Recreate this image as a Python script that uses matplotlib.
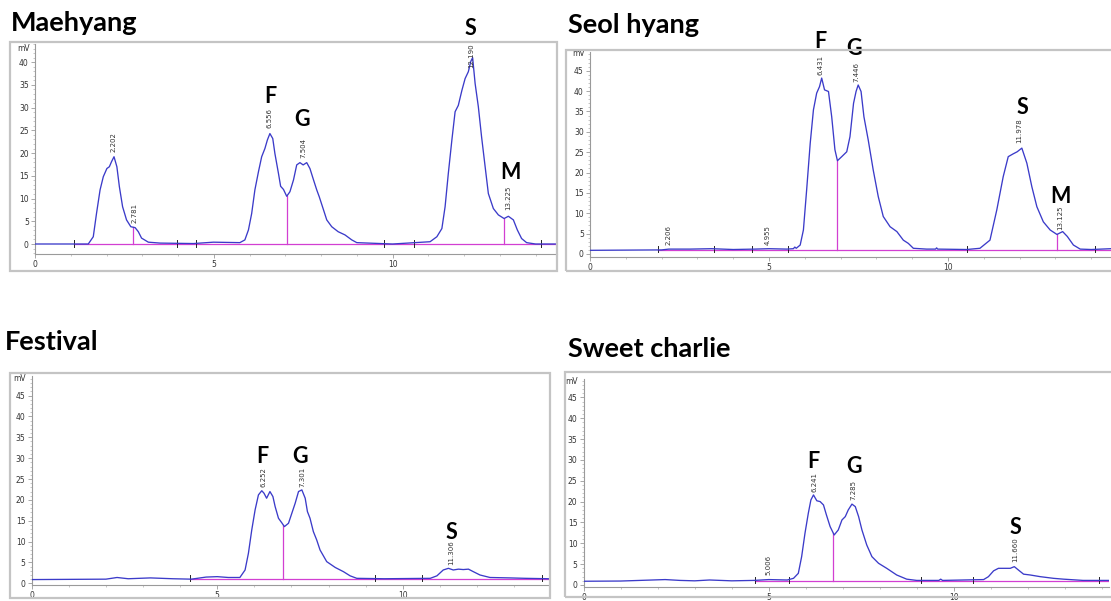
import matplotlib
matplotlib.use("Agg")
import matplotlib.pyplot as plt
from matplotlib.patches import Rectangle
from matplotlib.ticker import MultipleLocator
import numpy as np

W, H = 1111, 601

# ---- data (time in min, signal in mV) ----
mae_t = [0, 1.0, 1.49, 1.63, 1.72, 1.82, 1.91, 2.01, 2.08, 2.14, 2.21, 2.29, 2.36, 2.45, 2.56,
         2.68, 2.80, 2.89, 2.98, 3.17, 3.50, 4.43, 4.99, 5.73, 5.87, 5.97, 6.06, 6.15, 6.25,
         6.34, 6.43, 6.50, 6.57, 6.65, 6.71, 6.81, 6.87, 6.95, 7.04, 7.13, 7.23, 7.32, 7.41,
         7.50, 7.60, 7.69, 7.79, 7.88, 7.95, 8.07, 8.16, 8.30, 8.48, 8.67, 8.86, 9.0, 10.0,
         11.05, 11.24, 11.38, 11.47, 11.56, 11.66, 11.75, 11.84, 11.94, 12.03, 12.12, 12.19,
         12.24, 12.31, 12.40, 12.49, 12.59, 12.68, 12.82, 12.96, 13.12, 13.24, 13.38, 13.49,
         13.61, 13.75, 14.0, 14.6]
mae_mv = [0, 0, 0, 1.6, 6.7, 11.9, 14.8, 16.6, 17.0, 18.1, 19.2, 17.0, 12.6, 8.2, 5.3,
          3.8, 3.6, 2.7, 1.3, 0.4, 0.2, 0.1, 0.4, 0.3, 0.9, 3.1, 6.7, 11.9, 15.9,
          19.2, 21.0, 22.9, 24.3, 23.2, 19.9, 15.5, 12.7, 12.0, 10.5, 11.5, 14.1, 17.4, 17.9,
          17.4, 17.9, 16.6, 14.1, 11.9, 10.4, 7.5, 5.3, 3.8, 2.7, 2.0, 0.9, 0.3, 0,
          0.5, 1.6, 3.4, 8.2, 15.5, 22.9, 29.1, 30.5, 33.8, 36.4, 37.9, 40.2,
          41.0, 35.3, 30.2, 23.6, 17.0, 11.1, 7.8, 6.4, 5.6, 6.1, 5.3, 3.1,
          1.2, 0.3, 0, 0]

seol_t = [0, 1.0, 2.0, 2.2, 2.8, 3.4, 4.0, 4.6, 5.0, 5.5, 5.68, 5.72, 5.76, 5.87, 5.96, 6.05,
          6.15, 6.24, 6.33, 6.41, 6.47, 6.55, 6.66, 6.75, 6.84, 6.91, 7.03, 7.17, 7.26, 7.36,
          7.43, 7.49, 7.57, 7.65, 7.77, 7.91, 8.05, 8.19, 8.38, 8.57, 8.75, 8.89, 9.03, 9.40,
          9.65, 9.68, 9.71, 10.52, 10.89, 11.17, 11.36, 11.54, 11.68, 11.82, 11.93, 12.06,
          12.20, 12.34, 12.48, 12.66, 12.85, 13.04, 13.20, 13.33, 13.50, 13.69, 14.0, 14.55]
seol_mv = [0.9, 0.95, 1.0, 1.2, 1.2, 1.3, 1.1, 1.2, 1.3, 1.2, 1.3, 1.7, 1.4, 2.2, 5.9, 15.7,
           27.2, 35.4, 39.5, 41.1, 43.2, 40.3, 39.9, 33.7, 25.6, 22.9, 23.9, 25.1, 28.8, 37.0,
           39.9, 41.5, 39.9, 33.7, 28.0, 20.6, 14.1, 9.2, 6.7, 5.5, 3.4, 2.6, 1.4, 1.2,
           1.2, 1.5, 1.2, 1.1, 1.4, 3.4, 10.8, 19.0, 23.9, 24.6, 25.1, 26.0,
           22.3, 16.5, 11.6, 7.9, 5.9, 4.8, 5.5, 4.3, 2.2, 1.2, 1.1, 1.3]

fest_t = [0, 1.0, 2.0, 2.3, 2.6, 3.2, 3.8, 4.3, 4.7, 5.0, 5.3, 5.61, 5.75, 5.84, 5.93, 6.02,
          6.11, 6.20, 6.26, 6.33, 6.42, 6.50, 6.56, 6.65, 6.74, 6.81, 6.92, 7.01, 7.10, 7.19,
          7.28, 7.37, 7.43, 7.50, 7.59, 7.68, 7.77, 7.95, 8.18, 8.40, 8.58, 8.76, 9.5, 10.74,
          10.92, 11.09, 11.23, 11.36, 11.50, 11.63, 11.77, 11.90, 12.08, 12.35, 12.89, 13.3,
          13.95]
fest_mv = [0.9, 0.95, 1.0, 1.4, 1.1, 1.3, 1.1, 1.0, 1.5, 1.6, 1.4, 1.4, 3.2, 7.2, 12.8, 17.6,
           21.2, 22.2, 21.6, 20.4, 22.0, 20.8, 18.4, 15.6, 14.5, 13.6, 14.4, 16.8, 19.2, 22.0,
           22.4, 20.4, 17.2, 15.6, 12.4, 10.4, 8.0, 5.2, 3.8, 2.8, 1.8, 1.2, 1.1, 1.2,
           1.8, 3.2, 3.6, 3.2, 3.4, 3.3, 3.4, 2.8, 2.0, 1.4, 1.3, 1.2,
           1.1]

sweet_t = [0, 1.0, 2.2, 2.6, 3.0, 3.4, 4.0, 4.6, 5.0, 5.5, 5.67, 5.80, 5.89, 5.98, 6.07, 6.14,
           6.21, 6.30, 6.39, 6.48, 6.56, 6.66, 6.77, 6.88, 6.98, 7.07, 7.15, 7.25, 7.34, 7.43,
           7.52, 7.65, 7.79, 7.97, 8.19, 8.46, 8.73, 9.0, 9.6, 9.65, 9.7, 10.81, 10.94, 11.08,
           11.21, 11.35, 11.53, 11.64, 11.75, 11.89, 12.07, 12.34, 12.70, 12.97, 13.5, 14.2]
sweet_mv = [0.9, 0.95, 1.3, 1.1, 1.0, 1.2, 1.0, 1.1, 1.3, 1.2, 1.6, 2.8, 6.8, 12.4, 17.2, 20.4,
            21.6, 20.2, 20.0, 19.2, 16.8, 14.0, 12.0, 13.2, 15.6, 16.4, 18.0, 19.4, 18.8, 16.4,
            13.2, 9.6, 6.8, 5.2, 4.0, 2.4, 1.4, 1.1, 1.1, 1.4, 1.1, 1.3, 2.0, 3.4,
            4.0, 4.0, 4.0, 4.4, 3.6, 2.6, 2.4, 2.0, 1.6, 1.4, 1.1, 1.1]

# retention-time labels: (time, label, height of label foot)
mae_rt = [(2.202, "2.202", 20.2), (2.781, "2.781", 4.6), (6.556, "6.556", 25.5),
          (7.504, "7.504", 18.9), (12.190, "12.190", 38.7), (13.225, "13.225", 7.5)]
seol_rt = [(2.206, "2.206", 2.2), (4.955, "4.955", 2.2), (6.431, "6.431", 44.0),
           (7.446, "7.446", 42.3), (11.978, "11.978", 27.2), (13.125, "13.125", 5.9)]
fest_rt = [(6.252, "6.252", 23.2), (7.301, "7.301", 23.2), (11.306, "11.306", 4.4)]
sweet_rt = [(5.006, "5.006", 2.4), (6.241, "6.241", 22.4), (7.285, "7.285", 20.4),
            (11.660, "11.660", 5.6)]

# sugar letters: (letter, time, mV)
mae_sugar = [("F", 6.57, 32.5), ("G", 7.47, 27.3), ("S", 12.17, 47.5), ("M", 13.29, 15.8)]
seol_sugar = [("F", 6.42, 52.1), ("G", 7.37, 50.4), ("S", 12.07, 35.9), ("M", 13.15, 14.0)]
fest_sugar = [("F", 6.21, 30.3), ("G", 7.23, 30.3), ("S", 11.3, 12.3)]
sweet_sugar = [("F", 6.2, 29.5), ("G", 7.31, 28.3), ("S", 11.66, 13.7)]

# integration: drop lines, event marks, baseline start / level
mae_drop = [2.73, 7.04, 13.12]
seol_drop = [6.91, 13.04]
fest_drop = [6.78]
sweet_drop = [6.75]
mae_events = [1.10, 3.98, 4.50, 9.77, 10.60, 14.14]
seol_events = [1.91, 3.46, 4.52, 5.53, 10.54, 14.10]
fest_events = [4.27, 9.26, 10.52, 13.76]
sweet_events = [4.62, 5.55, 9.11, 10.51, 13.93]
mae_base = (1.10, 0.0)
seol_base = (1.91, 1.1)
fest_base = (4.27, 1.05)
sweet_base = (4.62, 1.05)

names = ["Maehyang", "Seol hyang", "Festival", "Sweet charlie"]

BLUE = "#3b3bc9"
MAGENTA = "#d23fd2"
GRAY = "#9a9a9a"


def fbox(l, t, r, b):
    return [l / W, 1 - b / H, (r - l) / W, (b - t) / H]


fig = plt.figure(figsize=(W / 100, H / 100), dpi=100)

panels = [
    dict(t=mae_t, mv=mae_mv, rt=mae_rt, sugar=mae_sugar, drop=mae_drop, ev=mae_events,
         base=mae_base, ax=(35, 44, 557, 254), xmax=14.6, ylim=(-2.2, 44.0), frame=(10, 42, 557, 271),
         mv_y=43.0, ymajor=list(range(0, 45, 5)), title=(11, 31)),
    dict(t=seol_t, mv=seol_mv, rt=seol_rt, sugar=seol_sugar, drop=seol_drop, ev=seol_events,
         base=seol_base, ax=(590, 52, 1111, 257), xmax=14.55, ylim=(-0.74, 49.6), frame=(566, 50, 1113, 271),
         mv_y=49.3, ymajor=list(range(0, 50, 5)), title=(568, 33)),
    dict(t=fest_t, mv=fest_mv, rt=fest_rt, sugar=fest_sugar, drop=fest_drop, ev=fest_events,
         base=fest_base, ax=(31.7, 376, 549, 585), xmax=13.94, ylim=(-0.4, 49.7), frame=(10, 373, 550, 598),
         mv_y=49.2, ymajor=list(range(0, 50, 5)), title=(5, 350)),
    dict(t=sweet_t, mv=sweet_mv, rt=sweet_rt, sugar=sweet_sugar, drop=sweet_drop, ev=sweet_events,
         base=sweet_base, ax=(583.8, 379, 1109, 586.5), xmax=14.2, ylim=(-0.36, 49.4), frame=(565, 372, 1113, 597),
         mv_y=48.9, ymajor=list(range(0, 50, 5)), title=(568, 357)),
]

for name, p in zip(names, panels):
    # outer grey box of the instrument screenshot
    l, t, r, b = p["frame"]
    fig.patches.append(Rectangle((l / W, 1 - b / H), (r - l) / W, (b - t) / H,
                                 transform=fig.transFigure, fill=False,
                                 edgecolor="#c4c4c4", linewidth=1.6))

    ax = fig.add_axes(fbox(*p["ax"]))
    ax.set_xlim(0, p["xmax"])
    ax.set_ylim(*p["ylim"])
    ax.patch.set_alpha(0)
    for s in ["top", "right"]:
        ax.spines[s].set_visible(False)
    for s in ["left", "bottom"]:
        ax.spines[s].set_color(GRAY)
        ax.spines[s].set_linewidth(0.8)

    ax.xaxis.set_major_locator(MultipleLocator(5))
    ax.xaxis.set_minor_locator(MultipleLocator(1))
    ax.set_yticks(p["ymajor"])
    ax.yaxis.set_minor_locator(MultipleLocator(1))
    ax.tick_params(which="major", length=3, width=0.6, color=GRAY, labelsize=5.5,
                   labelcolor="#333333", pad=1.5)
    ax.tick_params(which="minor", length=1.5, width=0.5, color="#b0b0b0")
    ax.annotate("mV", xy=(0, p["mv_y"]), xycoords=("axes fraction", "data"),
                xytext=(-4, 0), textcoords="offset points", ha="right", va="center",
                fontsize=5.5, color="#333333")

    time = np.array(p["t"])
    sig = np.array(p["mv"])

    # integration baseline and drop lines
    b0, blev = p["base"]
    ax.plot([b0, p["xmax"]], [blev, blev], color=MAGENTA, lw=0.9, zorder=2)
    for d in p["drop"]:
        ax.plot([d, d], [blev, np.interp(d, time, sig)], color=MAGENTA, lw=0.9, zorder=2)
    for e in p["ev"]:
        ax.plot([e, e], [blev - 0.6, blev + 0.9], color="#222222", lw=0.7, zorder=3)

    ax.plot(time, sig, color=BLUE, lw=0.95, zorder=4)

    for rt, lab, yl in p["rt"]:
        ax.text(rt, yl, lab, rotation=90, ha="center", va="bottom", fontsize=5,
                color="#333333", zorder=5)

    for letter, xs, ys in p["sugar"]:
        ax.text(xs, ys, letter, ha="center", va="center", fontsize=15.5,
                fontweight="bold", family="Lato", color="black", clip_on=False, zorder=6)

    tx, ty = p["title"]
    fig.text(tx / W, 1 - ty / H, name, ha="left", va="baseline", fontsize=19.5,
             fontweight="bold", family="Lato", color="black")

fig.savefig("out.png", dpi=100)
